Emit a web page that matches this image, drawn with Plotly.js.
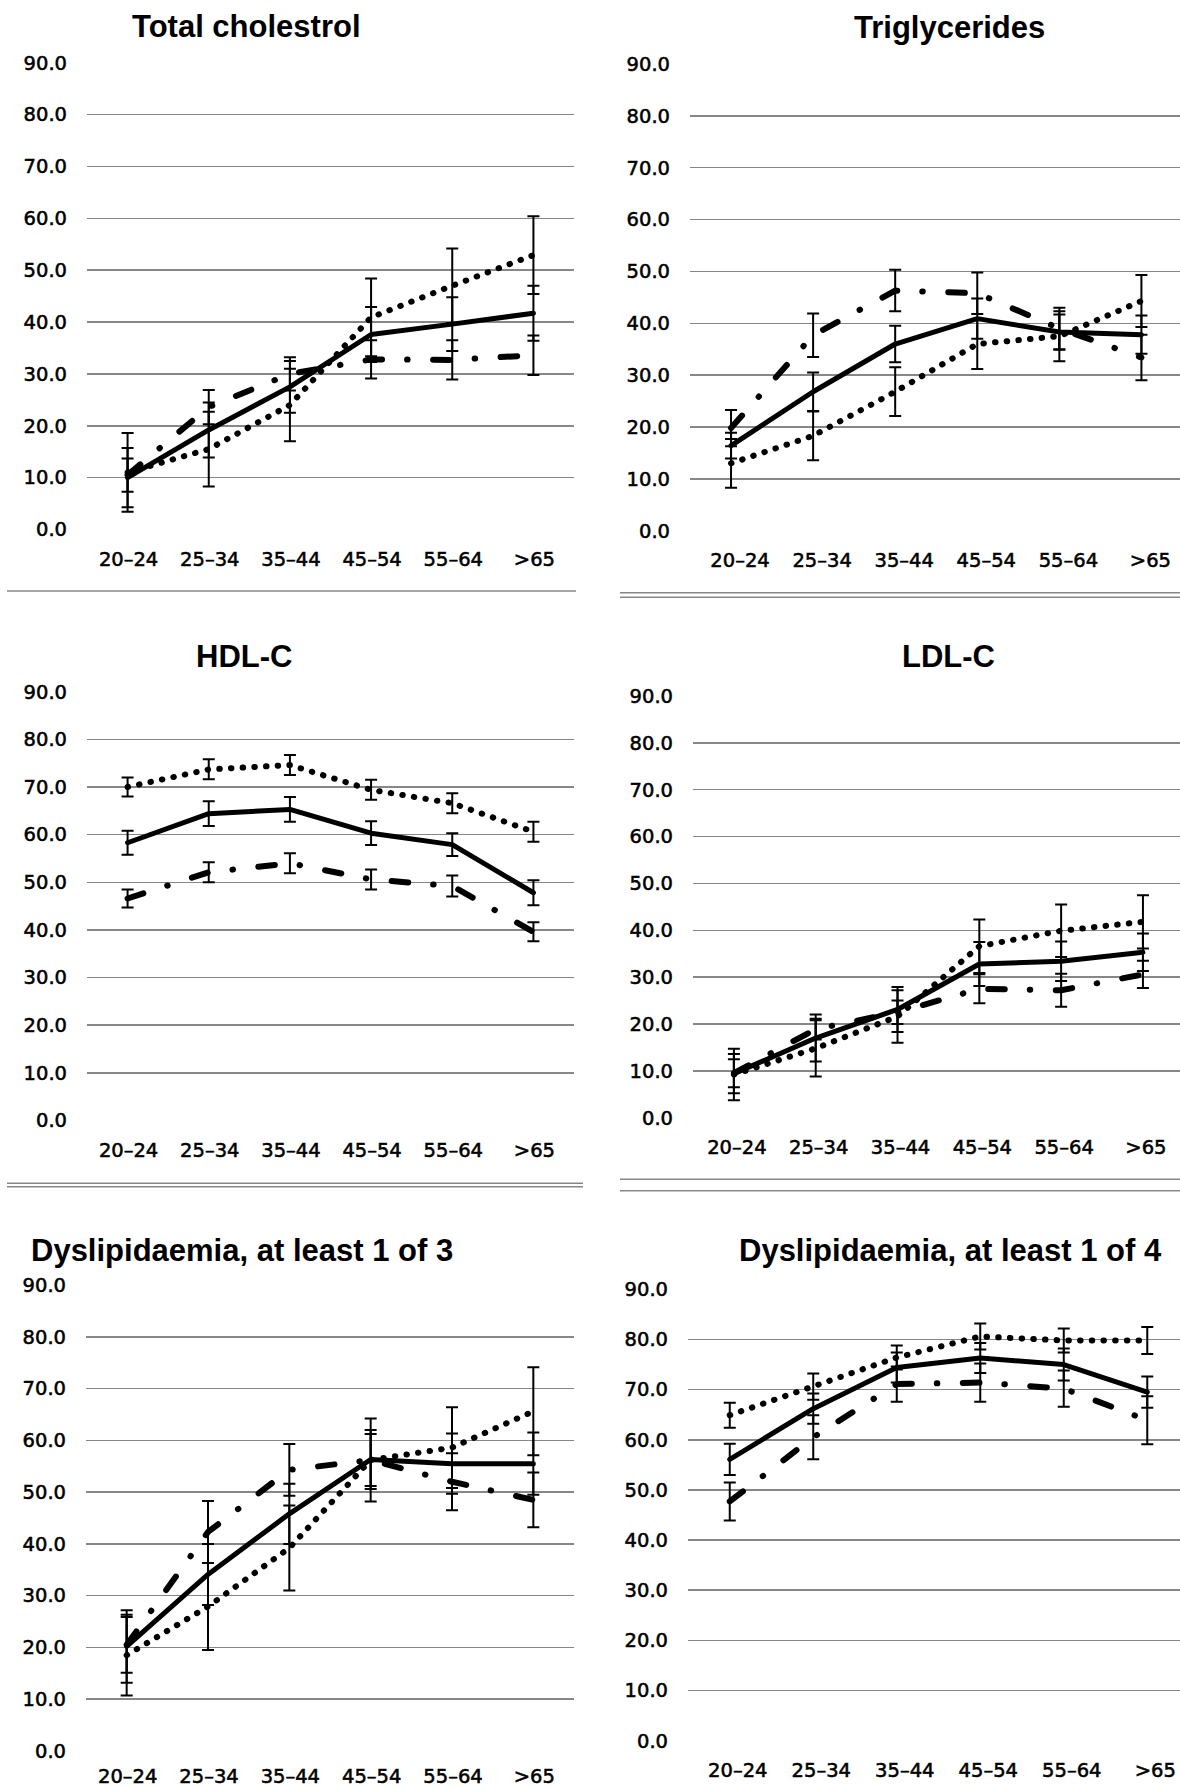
<!DOCTYPE html>
<html>
<head>
<meta charset="utf-8">
<script src="https://cdn.plot.ly/plotly-3.0.1.min.js"></script>
<style>
html,body{margin:0;padding:0;background:#fff;}
#chart{width:1180px;height:1790px;}
.js-line{stroke-linecap:round !important;stroke-linejoin:round !important;}
.xaxislayer-above text, .yaxislayer-above text{stroke:#000 !important;stroke-width:0.55px !important;}
</style>
</head>
<body>
<div id="chart"></div>
<script>
// ---------- data ----------
const ageGroups = ['20\u201324', '25\u201334', '35\u201344', '45\u201354', '55\u201364', '>65'];
const yTickVals = [0, 10, 20, 30, 40, 50, 60, 70, 80, 90];
const yTickText = ['0.0', '10.0', '20.0', '30.0', '40.0', '50.0', '60.0', '70.0', '80.0', '90.0'];
const panelTitles = ['Total cholestrol', 'Triglycerides', 'HDL-C', 'LDL-C',
  'Dyslipidaemia, at least 1 of 3', 'Dyslipidaemia, at least 1 of 4'];

// Total cholesterol
const tcSolid      = [10.0, 19.2, 27.5, 37.6, 39.6, 41.7];
const tcSolidErr   = [5.7, 5.3, 5.0, 5.3, 5.2, 5.3];
const tcDotted     = [11.0, 15.5, 24.0, 40.9, 47.0, 52.9];
const tcDottedErr  = [7.6, 7.2, 7.0, 7.5, 7.2, 7.5];
const tcDashDot    = [10.5, 23.6, 30.0, 32.8, 32.7, 33.6];
const tcDashDotErr = [3.2, 3.3, 3.2, 3.7, 3.8, 3.8];

// Triglycerides
const tgSolid      = [16.4, 26.8, 36.0, 40.9, 38.3, 37.8];
const tgSolidErr   = [2.5, 3.7, 3.5, 3.9, 3.4, 3.7];
const tgDotted     = [13.0, 18.3, 26.8, 36.0, 37.5, 44.3];
const tgDottedErr  = [4.7, 4.7, 4.7, 4.8, 4.8, 5.0];
const tgDashDot    = [19.8, 37.7, 46.3, 45.8, 39.0, 33.4];
const tgDashDotErr = [3.5, 4.2, 4.0, 4.0, 4.0, 4.4];

// HDL-C
const hdlSolid      = [58.3, 64.4, 65.3, 60.3, 57.9, 47.8];
const hdlSolidErr   = [2.5, 2.6, 2.6, 2.5, 2.4, 2.6];
const hdlDotted     = [70.0, 73.7, 74.6, 69.4, 66.6, 60.6];
const hdlDottedErr  = [2.0, 2.1, 2.1, 2.1, 2.1, 2.1];
const hdlDashDot    = [46.6, 52.1, 54.0, 50.6, 49.2, 39.6];
const hdlDashDotErr = [1.9, 2.1, 2.1, 2.1, 2.2, 2.0];

// LDL-C
const ldlSolid      = [9.4, 17.0, 23.1, 32.8, 33.4, 35.3];
const ldlSolidErr   = [4.2, 5.0, 4.8, 4.7, 4.2, 4.0];
const ldlDotted     = [9.2, 14.8, 21.6, 36.6, 39.9, 41.8];
const ldlDottedErr  = [5.5, 6.0, 5.6, 5.7, 5.6, 5.7];
const ldlDashDot    = [9.5, 18.9, 22.5, 27.5, 27.2, 30.6];
const ldlDashDotErr = [3.0, 2.2, 2.5, 3.1, 3.5, 2.9];

// Dyslipidaemia, at least 1 of 3
const d3Solid      = [20.2, 34.1, 45.8, 56.3, 55.5, 55.5];
const d3SolidErr   = [7.0, 5.9, 5.8, 5.7, 5.8, 6.0];
const d3Dotted     = [18.5, 27.9, 39.2, 56.2, 58.6, 65.6];
const d3DottedErr  = [7.8, 8.4, 8.2, 8.0, 7.8, 8.5];
const d3DashDot    = [20.5, 42.3, 54.3, 56.2, 52.0, 48.5];
const d3DashDotErr = [5.4, 6.0, 5.0, 5.0, 5.5, 5.3];

// Dyslipidaemia, at least 1 of 4
const d4Solid      = [56.1, 66.2, 74.4, 76.3, 75.0, 69.5];
const d4SolidErr   = [3.1, 3.0, 3.0, 3.0, 3.2, 3.1];
const d4Dotted     = [64.9, 70.6, 76.4, 80.6, 79.8, 79.8];
const d4DottedErr  = [2.5, 2.6, 2.4, 2.6, 2.4, 2.7];
const d4DashDot    = [47.7, 60.5, 71.1, 71.4, 70.2, 63.9];
const d4DashDotErr = [3.8, 4.4, 3.5, 3.8, 3.6, 4.8];

// ---------- layout geometry (pixels) ----------
const W = 1180, H = 1790;
const panels = [
  {x0: 87,  x1: 574,  xr: [-0.5, 5.5],   top: 62.7,   bot: 529.5,  shift: 1, stand: 16, tx: 246, ty: 26.7,
   s: [tcSolid, tcSolidErr, tcDotted, tcDottedErr, tcDashDot, tcDashDotErr]},
  {x0: 690, x1: 1180, xr: [-0.5, 5.47],  top: 64,     bot: 530.7,  shift: 9, stand: 16, tx: 949, ty: 27.5,
   s: [tgSolid, tgSolidErr, tgDotted, tgDottedErr, tgDashDot, tgDashDotErr]},
  {x0: 87,  x1: 574,  xr: [-0.5, 5.5],   top: 691.7,  bot: 1120.5, shift: 1, stand: 16, tx: 244, ty: 656,
   s: [hdlSolid, hdlSolidErr, hdlDotted, hdlDottedErr, hdlDashDot, hdlDashDotErr]},
  {x0: 693, x1: 1180, xr: [-0.5, 5.453], top: 696,    bot: 1117.7, shift: 3, stand: 16, tx: 948, ty: 656,
   s: [ldlSolid, ldlSolidErr, ldlDotted, ldlDottedErr, ldlDashDot, ldlDashDotErr]},
  {x0: 86,  x1: 574,  xr: [-0.5, 5.5],   top: 1285,   bot: 1751,   shift: 1, stand: 11, tx: 242, ty: 1250.5,
   s: [d3Solid, d3SolidErr, d3Dotted, d3DottedErr, d3DashDot, d3DashDotErr]},
  {x0: 688, x1: 1180, xr: [-0.5, 5.392], top: 1289.3, bot: 1740.7, shift: 8, stand: 16, tx: 950, ty: 1250.5,
   s: [d4Solid, d4SolidErr, d4Dotted, d4DottedErr, d4DashDot, d4DashDotErr]}
];

const lineStyles = [
  {color: '#000', width: 5, dash: 'solid'},
  {color: '#000', width: 6, dash: '0.5px,11.2px'},
  {color: '#000', width: 6, dash: '16.6px,25px,0.5px,25.5px'}
];

const tickFont = {family: 'DejaVu Sans, Verdana, sans-serif', size: 19.5, color: '#000'};
const titleFont = {family: 'Liberation Sans, Arial, sans-serif', size: 31, color: '#000', weight: 700};

const traces = [];
const layout = {
  width: W, height: H,
  margin: {l: 0, r: 0, t: 0, b: 0},
  paper_bgcolor: '#fff', plot_bgcolor: 'rgba(0,0,0,0)',
  showlegend: false,
  annotations: [],
  shapes: []
};

panels.forEach((p, i) => {
  const n = i + 1;
  const xa = 'x' + n, ya = 'y' + n;
  for (let k = 0; k < 3; k++) {
    traces.push({
      type: 'scatter', mode: 'lines',
      x: ageGroups, y: p.s[2 * k],
      xaxis: xa, yaxis: ya,
      line: lineStyles[k],
      error_y: {type: 'data', array: p.s[2 * k + 1], symmetric: true,
                color: '#000', thickness: 2, width: 6},
      hoverinfo: 'skip', showlegend: false
    });
  }
  layout['xaxis' + n] = {
    domain: [p.x0 / W, p.x1 / W],
    anchor: ya, type: 'category', range: p.xr,
    showgrid: false, zeroline: false, showline: false, ticks: '',
    tickfont: tickFont, ticklabelstandoff: p.stand, ticklabelshift: p.shift,
    fixedrange: true
  };
  layout['yaxis' + n] = {
    domain: [1 - p.bot / H, 1 - p.top / H],
    anchor: xa, range: [0, 90],
    tickmode: 'array', tickvals: yTickVals, ticktext: yTickText,
    showgrid: true, gridcolor: '#878787', gridwidth: 1.5,
    zeroline: false, showline: false, ticks: '',
    tickfont: tickFont, ticklabelstandoff: 19,
    fixedrange: true
  };
  layout.annotations.push({
    xref: 'paper', yref: 'paper', x: p.tx / W, y: 1 - p.ty / H,
    xanchor: 'center', yanchor: 'middle', showarrow: false,
    text: panelTitles[i], font: titleFont
  });
});

// separator lines between the panels
const separators = [
  [7, 576, 591], [620, 1180, 592.7], [620, 1180, 597.3],
  [7, 583, 1183.3], [7, 583, 1186.7], [620, 1180, 1179.3], [620, 1180, 1190.7]
];
separators.forEach(s => {
  layout.shapes.push({type: 'line', xref: 'paper', yref: 'paper',
    x0: s[0] / W, x1: s[1] / W, y0: 1 - s[2] / H, y1: 1 - s[2] / H,
    line: {color: '#878787', width: 1.5}});
});

Plotly.newPlot('chart', traces, layout, {displayModeBar: false, staticPlot: true});
</script>
</body>
</html>
